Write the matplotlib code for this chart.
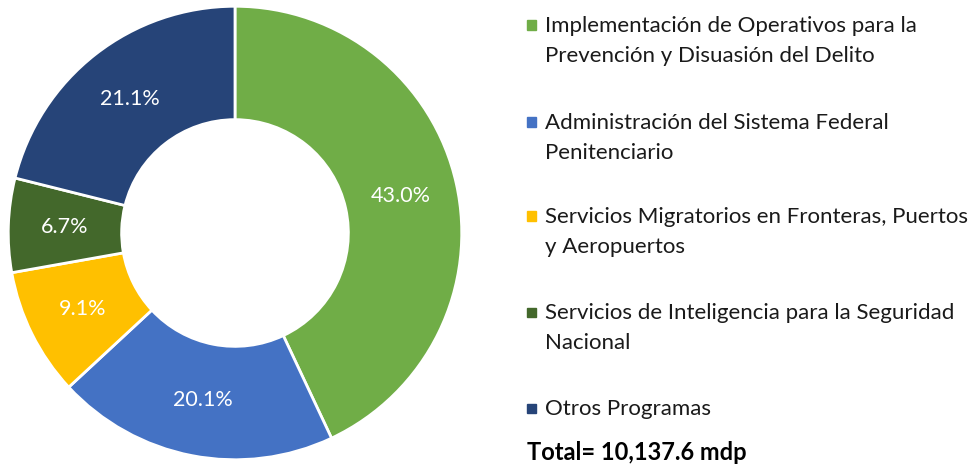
import matplotlib
matplotlib.use('Agg')
import matplotlib.pyplot as plt
from matplotlib.patches import Rectangle

# datos del grafico
programas = ['Implementación de Operativos para la\nPrevención y Disuasión del Delito',
             'Administración del Sistema Federal\nPenitenciario',
             'Servicios Migratorios en Fronteras, Puertos\ny Aeropuertos',
             'Servicios de Inteligencia para la Seguridad\nNacional',
             'Otros Programas']
porcentajes = [43.0, 20.1, 9.1, 6.7, 21.1]
colores = ['#70AD47', '#4472C4', '#FFC000', '#43682B', '#264478']
total = 'Total= 10,137.6 mdp'

plt.rcParams['font.family'] = ['Lato', 'DejaVu Sans']

W, H = 969, 467
fig = plt.figure(figsize=(W / 100, H / 100), dpi=100)

# dona
ax = fig.add_axes([6 / W, 5 / H, 458 / W, 458 / H])
wedges, texts, autotexts = ax.pie(porcentajes, colors=colores, startangle=90, counterclock=False,
                                  radius=1, autopct='%1.1f%%', pctdistance=0.75,
                                  wedgeprops=dict(width=0.5, edgecolor='white', linewidth=2))
for t in autotexts:
    t.set_color('white')
    t.set_fontsize(15.5)
ax.set_xlim(-1.01, 1.01)
ax.set_ylim(-1.01, 1.01)
ax.set_aspect('equal')
ax.axis('off')

# leyenda manual
ys = [25, 122, 216, 312, 408]
for lab, col, y in zip(programas, colores, ys):
    fig.add_artist(Rectangle((527 / W, 1 - (y + 4.5) / H), 9 / W, 9 / H,
                             transform=fig.transFigure, color=col))
    fig.text(545 / W, 1 - (y - 9) / H, lab, fontsize=16, va='top', ha='left',
             linespacing=1.6, color='#1a1a1a')

fig.text(527 / W, 1 - 453 / H, total, fontsize=17, fontweight='bold', va='center', ha='left')

fig.savefig('out.png', dpi=100)
